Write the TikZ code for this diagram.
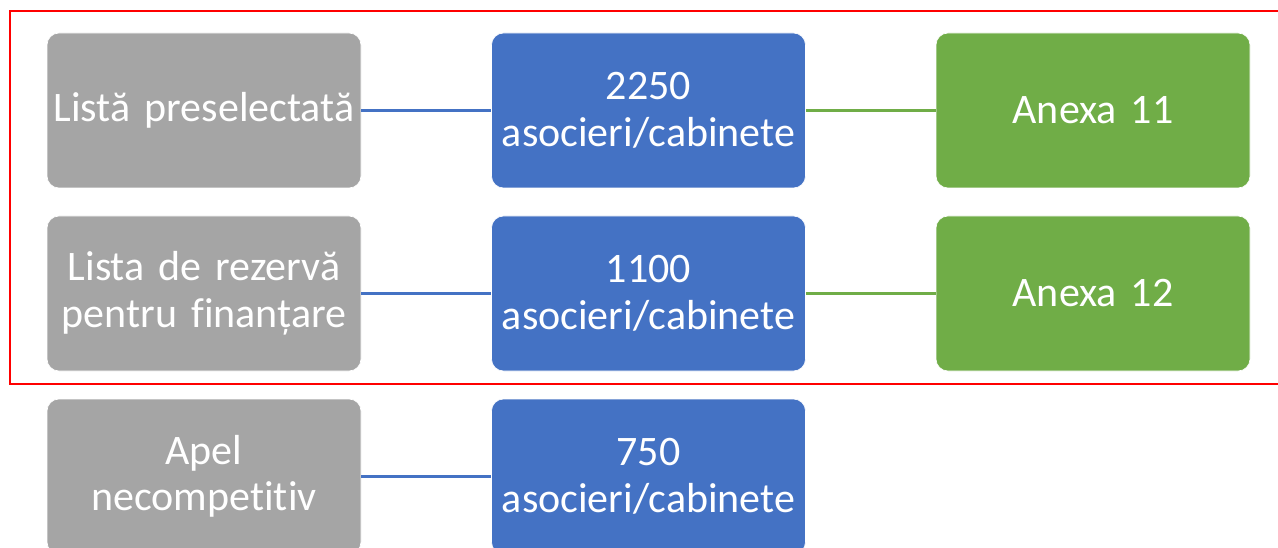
\documentclass[tikz,border=0pt]{standalone}
\usepackage{fontspec}
\setmainfont{Carlito}[WordSpace=0.8, Ligatures={NoCommon}]
\usepackage{xcolor}
\definecolor{boxgray}{HTML}{A5A5A5}
\definecolor{boxblue}{HTML}{4472C4}
\definecolor{boxgreen}{HTML}{70AD47}
\tikzset{box/.style={draw=white, line width=0.6pt, rounded corners=12pt,
   minimum width=314pt, minimum height=155pt, text width=314pt,
   align=center, text=white, inner sep=0pt,
   font=\fontsize{42}{46.5}\selectfont},
 graybox/.style={box, fill=boxgray},
 bluebox/.style={box, fill=boxblue},
 greenbox/.style={box, fill=boxgreen},
 link/.style={line width=2.2pt},
 }

\begin{document}
\begin{tikzpicture}[x=1pt, y=-1pt]
        \useasboundingbox (0,0) rectangle (1278,548);
        \clip (0,0) rectangle (1278,548);
        \draw[red, line width=2pt] (9.5,11.5) rectangle (1295,384);
        % first row
        \node[graybox] (pre) at (204,110.5) {Listă preselectată};
        \node[bluebox] (pren) at (648.5,110.5) {2250\\asocieri/cabinete};
        \node[greenbox] (anx11) at (1093,110.5) {Anexa 11};
        % second row
        \node[graybox] (rez) at (204,293.5) {Lista de rezervă\\pentru finanțare};
        \node[bluebox] (rezn) at (648.5,293.5) {1100\\asocieri/cabinete};
        \node[greenbox] (anx12) at (1093,293.5) {Anexa 12};
        % third row
        \node[graybox] (apel) at (204,476.5) {Apel\\necompetitiv};
        \node[bluebox] (apeln) at (648.5,476.5) {750\\asocieri/cabinete};
        \draw[link, boxblue] (pre) -- (pren);
        \draw[link, boxgreen] (pren) -- (anx11);
        \draw[link, boxblue] (rez) -- (rezn);
        \draw[link, boxgreen] (rezn) -- (anx12);
        \draw[link, boxblue] (apel) -- (apeln);
    \end{tikzpicture}
\end{document}
